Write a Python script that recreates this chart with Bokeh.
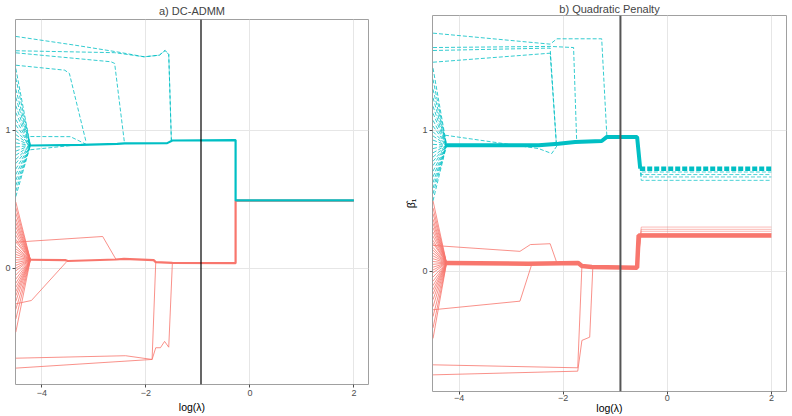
from bokeh.embed import file_html
from bokeh.layouts import column, row
from bokeh.models import FixedTicker, Range1d, Span
from bokeh.plotting import figure
from bokeh.resources import INLINE

RED = "#F8766D"
CYAN = "#00BFC4"
FONT = "Liberation Sans"

x_ticks = [-4, -2, 0, 2]
y_ticks = [0, 1]
fan_x0 = -4.5          # left end of the fanning paths
x_label = "log(λ)"
y_label = "β̂₁"

# ---------------- a) DC-ADMM ----------------
a_title = "a) DC-ADMM"
a_cut = -0.94
a_xlim = (-4.506, 2.28)
a_ylim = (-0.845, 1.806)

a_red_main_x = [-4.22, -3.55, -3.50, -2.58, -2.42, -1.85, -1.81, -1.49, -0.275, -0.275, 2.0]
a_red_main_y = [0.061, 0.058, 0.052, 0.063, 0.068, 0.058, 0.044, 0.039, 0.036, 0.49, 0.49]
a_cyan_main_x = [-4.22, -3.25, -2.55, -2.41, -1.59, -1.49, -0.275, -0.275, 2.0]
a_cyan_main_y = [0.891, 0.896, 0.903, 0.906, 0.908, 0.927, 0.93, 0.492, 0.492]

a_red_fan = [0.48, 0.44, 0.40, 0.36, 0.33, 0.30, 0.27, 0.24, 0.21, 0.19, 0.16, 0.14,
             0.12, 0.10, 0.08, 0.06, 0.04, 0.02, 0.0, -0.02, -0.05, -0.08, -0.11,
             -0.14, -0.17, -0.20, -0.24, -0.30, -0.37, -0.465]
a_cyan_fan = [1.45, 1.38, 1.30, 1.24, 1.18, 1.13, 1.08, 1.04, 1.00, 0.97, 0.94, 0.91,
              0.88, 0.85, 0.82, 0.79, 0.76, 0.72, 0.68, 0.64, 0.60, 0.56, 0.52]

a_red_out_x = [[-4.5, -2.83, -2.57],
               [-4.5, -4.20, -3.53],
               [-4.5, -2.39, -1.88, -1.81],
               [-4.5, -1.88, -1.81, -1.72, -1.64, -1.56, -1.49]]
a_red_out_y = [[0.189, 0.230, 0.061],
               [-0.259, -0.235, 0.044],
               [-0.654, -0.636, -0.663, 0.044],
               [-0.726, -0.663, -0.578, -0.578, -0.532, -0.574, 0.039]]
a_cyan_out_x = [[-4.5, -3.37, -2.54, -2.03, -1.74, -1.63, -1.56, -1.51],
                [-4.5, -2.60, -2.03, -1.74, -1.63, -1.56, -1.51],
                [-4.5, -2.67, -2.60, -2.41],
                [-4.5, -3.56, -3.47, -3.15],
                [-4.22, -3.45, -3.15],
                [-4.22, -3.30]]
a_cyan_out_y = [[1.683, 1.62, 1.57, 1.535, 1.547, 1.581, 1.552, 0.93],
                [1.579, 1.565, 1.535, 1.547, 1.581, 1.552, 0.93],
                [1.564, 1.499, 1.487, 0.906],
                [1.474, 1.438, 1.414, 0.918],
                [0.956, 0.955, 0.90],
                [0.86, 0.896]]

# ---------------- b) Quadratic Penalty ----------------
b_title = "b) Quadratic Penalty"
b_cut = -0.90
b_xlim = (-4.51, 2.29)
b_ylim = (-0.851, 1.813)

b_red_main_x = [-4.24, -2.67, -1.71, -1.64, -1.45, -0.58, -0.55, 2.0]
b_red_main_y = [0.059, 0.054, 0.059, 0.038, 0.031, 0.026, 0.255, 0.255]
b_cyan_main_x = [-4.24, -2.47, -2.09, -1.77, -1.26, -1.16, -0.58, -0.52]
b_cyan_main_y = [0.894, 0.894, 0.905, 0.917, 0.924, 0.953, 0.953, 0.728]
b_cyan_level = 0.728
b_red_spread = [0.267, 0.284, 0.298, 0.314]
b_cyan_spread = [0.704, 0.686, 0.669, 0.645]
b_jump_x = [-0.58, -0.50, 2.0]

b_red_fan = [0.50, 0.45, 0.41, 0.37, 0.34, 0.31, 0.28, 0.25, 0.22, 0.20, 0.17, 0.15,
             0.13, 0.11, 0.09, 0.07, 0.05, 0.03, 0.01, -0.01, -0.04, -0.07, -0.10,
             -0.13, -0.16, -0.20, -0.25, -0.32, -0.40, -0.475]
b_cyan_fan = [1.44, 1.36, 1.29, 1.23, 1.17, 1.12, 1.07, 1.03, 0.99, 0.96, 0.93, 0.90,
              0.87, 0.84, 0.81, 0.78, 0.75, 0.71, 0.67, 0.63, 0.59, 0.55, 0.50]

b_red_out_x = [[-4.5, -2.83, -2.63, -2.25, -2.12],
               [-4.5, -2.83, -2.60],
               [-4.5, -1.72, -1.64],
               [-4.5, -1.72, -1.64, -1.49, -1.43]]
b_red_out_y = [[0.184, 0.142, 0.19, 0.196, 0.059],
               [-0.272, -0.211, 0.054],
               [-0.662, -0.683, 0.038],
               [-0.733, -0.707, -0.489, -0.466, 0.031]]
b_cyan_out_x = [[-4.5, -2.25, -2.12, -1.26, -1.16],
                [-4.5, -2.25, -1.80, -1.74],
                [-4.5, -2.25, -2.13],
                [-4.5, -2.25, -2.13],
                [-4.27, -2.47, -2.22, -2.09]]
b_cyan_out_y = [[1.688, 1.61, 1.648, 1.648, 0.953],
                [1.586, 1.594, 1.586, 0.917],
                [1.565, 1.582, 0.90],
                [1.482, 1.546, 0.90],
                [0.965, 0.870, 0.835, 0.905]]


def make_panel(title, xlim, ylim, w, left, right, top, bottom, ylab,
               title_gap, label_gap, tick_gap):
    p = figure(width=w, height=416, title=title,
               min_border_left=left, min_border_right=right,
               min_border_top=top, min_border_bottom=bottom,
               x_range=Range1d(*xlim), y_range=Range1d(*ylim),
               output_backend="svg", toolbar_location=None)
    p.title.align = "center"
    p.title.text_font = FONT
    p.title.text_font_size = "11px"
    p.title.text_font_style = "normal"
    p.title.standoff = title_gap
    p.title.offset = 0
    p.background_fill_color = "white"
    p.border_fill_color = "white"
    p.outline_line_color = "#a0a0a0"
    p.outline_line_width = 1
    p.xgrid.ticker = FixedTicker(ticks=x_ticks)
    p.ygrid.ticker = FixedTicker(ticks=y_ticks)
    p.grid.grid_line_color = "#e6e6e6"
    p.grid.grid_line_width = 1
    p.xaxis.ticker = FixedTicker(ticks=x_ticks)
    p.yaxis.ticker = FixedTicker(ticks=y_ticks)
    for ax in (p.xaxis[0], p.yaxis[0]):
        ax.axis_line_color = None
        ax.major_tick_line_color = "#4d4d4d"
        ax.major_tick_out = 3
        ax.major_tick_in = 0
        ax.minor_tick_line_color = None
        ax.major_label_text_font = FONT
        ax.major_label_text_font_size = "9px"
        ax.major_label_text_color = "#4d4d4d"
        ax.major_label_standoff = 2
        ax.axis_label_text_font = FONT
        ax.axis_label_text_font_size = "10.5px"
        ax.axis_label_text_font_style = "normal"
        ax.axis_label_text_color = "black"
        ax.axis_label_standoff = 2
    p.xaxis.major_label_standoff = tick_gap
    p.xaxis.axis_label_standoff = label_gap
    p.xaxis.axis_label = x_label
    if ylab:
        p.yaxis.axis_label = y_label
    return p


def fan(start_vals, conv_x, conv_y):
    xs = [[fan_x0, conv_x] for _ in start_vals]
    ys = [[v, conv_y] for v in start_vals]
    return xs, ys


# ---- panel a ----
pa = make_panel(a_title, a_xlim, a_ylim, 395, 15, 27, 19, 32, False, 5, 2, 2)
xs, ys = fan(a_red_fan, a_red_main_x[0], a_red_main_y[0])
pa.multi_line(xs, ys, line_color=RED, line_width=1, line_alpha=0.8)
pa.multi_line(a_red_out_x, a_red_out_y, line_color=RED, line_width=1, line_alpha=0.8)
xs, ys = fan(a_cyan_fan, a_cyan_main_x[0], a_cyan_main_y[0])
pa.multi_line(xs, ys, line_color=CYAN, line_width=1, line_alpha=0.8, line_dash="4 2")
pa.multi_line(a_cyan_out_x, a_cyan_out_y, line_color=CYAN, line_width=1,
              line_alpha=0.8, line_dash="4 2")
pa.line(a_red_main_x, a_red_main_y, line_color=RED, line_width=2.2)
pa.line(a_cyan_main_x, a_cyan_main_y, line_color=CYAN, line_width=2.2)
pa.add_layout(Span(location=a_cut, dimension="height", line_color="black", line_width=1.2))

# ---- panel b ----
pb = make_panel(b_title, b_xlim, b_ylim, 397, 37, 6, 15, 25, True, 1, -2, 0)
xs, ys = fan(b_red_fan, b_red_main_x[0], b_red_main_y[0])
pb.multi_line(xs, ys, line_color=RED, line_width=1, line_alpha=0.8)
pb.multi_line(b_red_out_x, b_red_out_y, line_color=RED, line_width=1, line_alpha=0.8)
xs, ys = fan(b_cyan_fan, b_cyan_main_x[0], b_cyan_main_y[0])
pb.multi_line(xs, ys, line_color=CYAN, line_width=1, line_alpha=0.8, line_dash="4 2")
pb.multi_line(b_cyan_out_x, b_cyan_out_y, line_color=CYAN, line_width=1,
              line_alpha=0.8, line_dash="4 2")
# replicates that settle slightly apart once the penalty dominates
pb.multi_line([b_jump_x for _ in b_red_spread],
              [[b_red_main_y[-3], v, v] for v in b_red_spread],
              line_color=RED, line_width=1, line_alpha=0.5)
pb.multi_line([b_jump_x for _ in b_cyan_spread],
              [[b_cyan_main_y[-2], v, v] for v in b_cyan_spread],
              line_color=CYAN, line_width=1, line_alpha=0.7, line_dash="4 2")
pb.line(b_red_main_x, b_red_main_y, line_color=RED, line_width=4.5)
pb.line(b_cyan_main_x, b_cyan_main_y, line_color=CYAN, line_width=4)
pb.line([b_cyan_main_x[-1], 2.0], [b_cyan_level, b_cyan_level],
        line_color=CYAN, line_width=4.5, line_dash="5 2")
pb.add_layout(Span(location=b_cut, dimension="height", line_color="#555555", line_width=2))

# each panel sits in its own column so the two frames are sized independently
layout = row(column(pa), column(pb))
open("out.html", "w").write(file_html(layout, INLINE))
